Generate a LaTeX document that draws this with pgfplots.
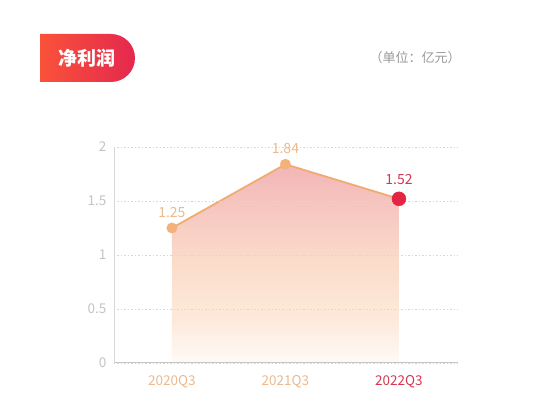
\documentclass[border=0pt]{standalone}
\usepackage{fontspec}
\setmainfont{Noto Sans CJK SC}
\usepackage{pgfplots}
\pgfplotsset{compat=1.18}
\definecolor{lineOrange}{RGB}{240,172,112}
\definecolor{dotOrange}{RGB}{243,178,122}
\definecolor{labOrange}{RGB}{236,186,142}
\definecolor{hotRed}{RGB}{228,36,66}
\definecolor{labRed}{RGB}{214,56,82}
\definecolor{tickGray}{RGB}{196,196,196}
\definecolor{gridGray}{RGB}{215,215,215}
\definecolor{fillTop}{RGB}{242,176,178}
\definecolor{fillPink}{RGB}{246,196,188}
\definecolor{fillMid}{RGB}{251,218,198}
\definecolor{fillLow}{RGB}{253,232,216}
\definecolor{fillBot}{RGB}{255,250,246}
\definecolor{badgeL}{RGB}{250,82,58}
\definecolor{badgeR}{RGB}{228,40,78}
\pgfdeclareverticalshading{areafill}{100bp}{%
  color(0bp)=(fillBot); color(25bp)=(fillBot); color(36bp)=(fillLow);
  color(50bp)=(fillMid); color(63bp)=(fillPink); color(75bp)=(fillTop); color(100bp)=(fillTop)}

\begin{document}
\begin{tikzpicture}
\path[use as bounding box, fill=white] (0pt,0pt) rectangle (542pt,-406pt);

% title badge
\path[left color=badgeL, right color=badgeR]
  (40pt,-34pt) -- (111pt,-34pt) arc[start angle=90, end angle=-90, radius=24pt] -- (40pt,-82pt) -- cycle;
\node[text=white, font=\fontsize{19}{19}\selectfont\bfseries] at (87pt,-58pt) {净利润};
\node[text=gray!80, font=\fontsize{13}{13}\selectfont] at (415pt,-58pt) {（单位：亿元）};

\begin{axis}[
  at={(114pt,-363pt)}, anchor=south west,
  scale only axis, width=344pt, height=216pt,
  xmin=-0.51, xmax=2.52, ymin=0, ymax=2,
  xtick={0,1,2}, xticklabels={2020Q3,2021Q3,\textcolor{labRed}{2022Q3}},
  ytick={0,0.5,1,1.5,2},
  axis x line*=bottom, axis y line*=left,
  x axis line style={draw=gridGray!80!gray, line width=1pt, -},
  y axis line style={draw=gridGray, line width=0.8pt, -},
  major tick length=0pt,
  ymajorgrids, grid style={draw=gridGray, dash pattern=on 1.5pt off 2pt, line width=0.7pt},
  xticklabel style={text=labOrange, font=\fontsize{13.5}{13.5}\selectfont, yshift=-9pt},
  yticklabel style={text=tickGray, font=\fontsize{13.5}{13.5}\selectfont, xshift=-4pt},
  /pgf/number format/assume math mode=true,
  clip=false, axis on top,
]
\addplot[draw=none, shading=areafill, fill opacity=0.92]
  coordinates {(0,1.25) (1,1.84) (2,1.52)} \closedcycle;
\addplot[lineOrange, line width=1.8pt, mark=*, mark size=4.5pt,
  mark options={draw=dotOrange, fill=dotOrange}]
  coordinates {(0,1.25) (1,1.84)};
\addplot[lineOrange, line width=1.8pt] coordinates {(1,1.84) (2,1.52)};
\addplot[only marks, mark=*, mark size=7pt, mark options={draw=hotRed, fill=hotRed}]
  coordinates {(2,1.52)};
\addplot[only marks, mark=none, nodes near coords, point meta=explicit symbolic,
  nodes near coords style={text=labOrange, font=\fontsize{14}{14}\selectfont, anchor=south, yshift=7pt}]
  coordinates {(0,1.25) [1.25] (1,1.84) [1.84]};
\addplot[only marks, mark=none, nodes near coords, point meta=explicit symbolic,
  nodes near coords style={text=labRed, font=\fontsize{14}{14}\selectfont, anchor=south, yshift=11pt}]
  coordinates {(2,1.52) [1.52]};
\end{axis}
\end{tikzpicture}
\end{document}
